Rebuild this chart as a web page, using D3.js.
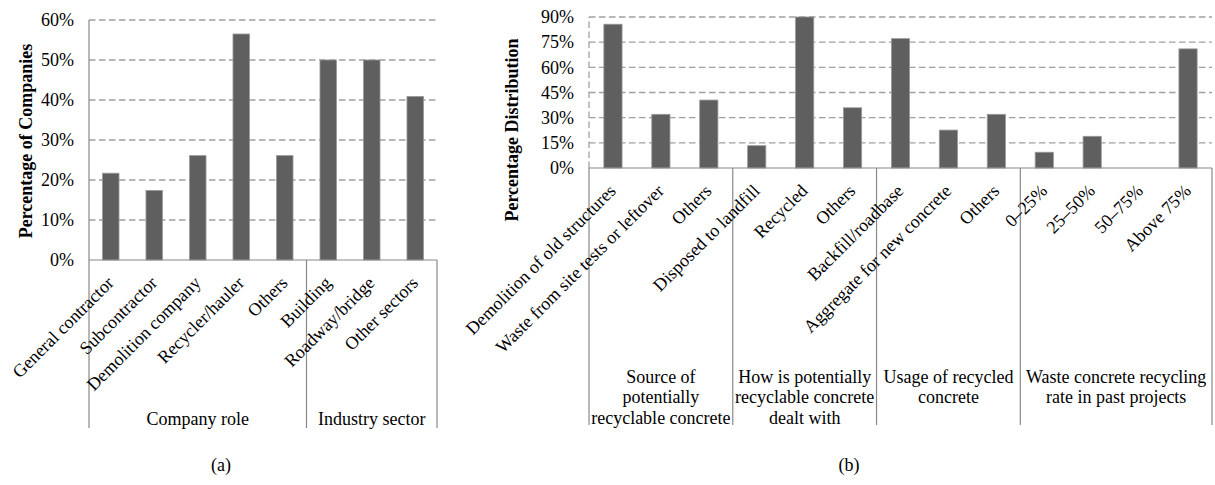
<!DOCTYPE html>
<html>
<head>
<meta charset="utf-8">
<script src="https://cdn.jsdelivr.net/npm/d3@7"></script>
<style>
  body { margin: 0; background: #fff; }
</style>
</head>
<body>
<div class="chart-container"></div>
<script>
var W = 1215, H = 485;
var FONT = "'Liberation Serif', 'DejaVu Serif', serif";

// panel (a)
var roleCats = ["General contractor", "Subcontractor", "Demolition company", "Recycler/hauler", "Others",
                "Building", "Roadway/bridge", "Other sectors"];
var roleVals = [21.7, 17.4, 26.1, 56.5, 26.1, 50, 50, 40.9];
var roleGroups = [{name: ["Company role"], n: 5}, {name: ["Industry sector"], n: 3}];
var roleTicks = [0, 10, 20, 30, 40, 50, 60];

// panel (b)
var concCats = ["Demolition of old structures", "Waste from site tests or leftover", "Others",
                "Disposed to landfill", "Recycled", "Others",
                "Backfill/roadbase", "Aggregate for new concrete", "Others",
                "0–25%", "25–50%", "50–75%", "Above 75%"];
var concVals = [85.7, 32, 40.5, 13.3, 90, 35.9, 77.1, 22.6, 32, 9.4, 18.9, 0, 71];
var concGroups = [
  {name: ["Source of", "potentially", "recyclable concrete"], n: 3},
  {name: ["How is potentially", "recyclable concrete", "dealt with"], n: 3},
  {name: ["Usage of recycled", "concrete"], n: 3},
  {name: ["Waste concrete recycling", "rate in past projects"], n: 4}
];
var concTicks = [0, 15, 30, 45, 60, 75, 90];

var svg = d3.select(".chart-container")
    .append("svg")
    .attr("width", W)
    .attr("height", H)
    .attr("font-family", FONT);

function drawPanel(opt) {
    var g = svg.append("g");
    var x = d3.scaleBand()
        .domain(d3.range(opt.cats.length))
        .range([opt.left, opt.right])
        .paddingInner(0.62)
        .paddingOuter(0.31);
    var y = d3.scaleLinear()
        .domain([0, d3.max(opt.ticks)])
        .range([opt.bottom, opt.top]);

    // dashed gridlines
    g.selectAll(".grid")
        .data(opt.ticks.filter(function(t) { return t > 0; }))
        .enter()
        .append("line")
        .attr("x1", opt.left)
        .attr("x2", opt.right)
        .attr("y1", function(d) { return y(d); })
        .attr("y2", function(d) { return y(d); })
        .attr("stroke", "#a0a0a0")
        .attr("stroke-width", 1.3)
        .attr("stroke-dasharray", "6.5,3.5");

    // y axis line
    g.append("line")
        .attr("x1", opt.left).attr("x2", opt.left)
        .attr("y1", y(0)).attr("y2", opt.top)
        .attr("stroke", opt.axisDashed ? "#a0a0a0" : "#888")
        .attr("stroke-width", opt.axisDashed ? 1.3 : 1.2)
        .attr("stroke-dasharray", opt.axisDashed ? "6.5,3.5" : null);

    // tick labels
    g.selectAll(".tick")
        .data(opt.ticks)
        .enter()
        .append("text")
        .attr("x", opt.left - 15)
        .attr("y", function(d) { return y(d); })
        .attr("dy", "0.35em")
        .attr("text-anchor", "end")
        .style("font-size", "18px")
        .text(function(d) { return d + "%"; });

    // bars
    g.selectAll(".bar")
        .data(opt.vals)
        .enter()
        .append("rect")
        .attr("x", function(d, i) { return x(i); })
        .attr("width", x.bandwidth())
        .attr("y", function(d) { return y(d); })
        .attr("height", function(d) { return y(0) - y(d); })
        .attr("fill", "#5f5f5f")
        .attr("stroke", "#9a9a9a")
        .attr("stroke-width", function(d) { return d > 0 ? 0.8 : 0; });

    // baseline + category box
    var step = x.step();
    g.append("line")
        .attr("x1", opt.left).attr("x2", opt.right)
        .attr("y1", y(0)).attr("y2", y(0))
        .attr("stroke", "#888").attr("stroke-width", 1.2);

    var edges = [0];
    opt.groups.forEach(function(gr) { edges.push(edges[edges.length - 1] + gr.n); });
    g.selectAll(".div")
        .data(edges)
        .enter()
        .append("line")
        .attr("x1", function(d) { return opt.left + d * step; })
        .attr("x2", function(d) { return opt.left + d * step; })
        .attr("y1", y(0))
        .attr("y2", opt.boxBottom)
        .attr("stroke", "#888")
        .attr("stroke-width", 1.2);

    // category labels, rotated
    g.selectAll(".cat")
        .data(opt.cats)
        .enter()
        .append("text")
        .attr("transform", function(d, i) {
            return "translate(" + (x(i) + x.bandwidth() / 2 + 4) + "," + (y(0) + 24) + ") rotate(-45)";
        })
        .attr("text-anchor", "end")
        .style("font-size", "18px")
        .text(function(d) { return d; });

    // group labels
    var start = 0;
    opt.groups.forEach(function(gr) {
        var cx = opt.left + (start + gr.n / 2) * step;
        var t = g.append("text")
            .attr("text-anchor", "middle")
            .style("font-size", "18px");
        gr.name.forEach(function(line, k) {
            t.append("tspan")
                .attr("x", cx)
                .attr("y", opt.groupY + k * 20.3)
                .text(line);
        });
        start += gr.n;
    });

    // y axis title
    g.append("text")
        .attr("transform", "translate(" + opt.titleX + "," + opt.titleY + ") rotate(-90)")
        .attr("text-anchor", "middle")
        .style("font-size", "18px")
        .style("font-weight", "bold")
        .text(opt.title);

    // panel letter
    g.append("text")
        .attr("x", opt.letterX)
        .attr("y", 471)
        .attr("text-anchor", "middle")
        .style("font-size", "18px")
        .text(opt.letter);
}

drawPanel({
    cats: roleCats, vals: roleVals, groups: roleGroups, ticks: roleTicks,
    left: 89, right: 437, top: 20, bottom: 260, boxBottom: 428,
    groupY: 425, title: "Percentage of Companies", titleX: 32, titleY: 141,
    letter: "(a)", letterX: 221, axisDashed: false
});

drawPanel({
    cats: concCats, vals: concVals, groups: concGroups, ticks: concTicks,
    left: 589, right: 1212, top: 17, bottom: 168, boxBottom: 425,
    groupY: 383, title: "Percentage Distribution", titleX: 518, titleY: 130,
    letter: "(b)", letterX: 849, axisDashed: true
});
</script>
</body>
</html>
